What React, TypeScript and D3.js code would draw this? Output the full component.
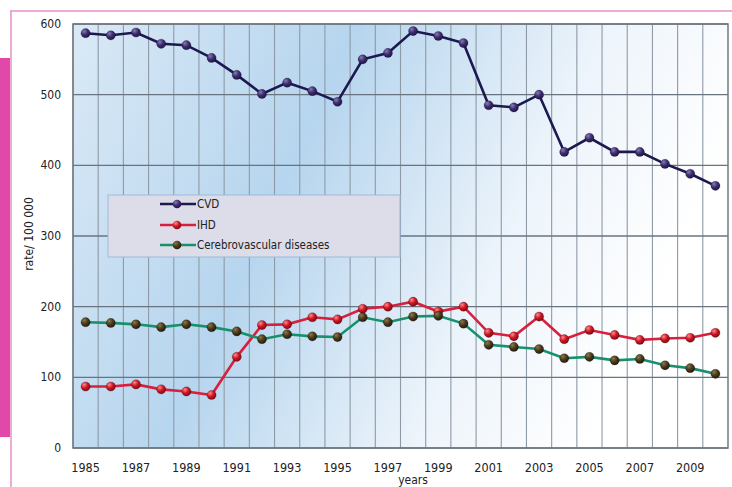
import * as d3 from 'd3';

const years = d3.range(1985, 2011);
const cvd = [587, 584, 588, 572, 570, 552, 528, 501, 517, 505, 490, 550, 559, 590, 583, 573, 485, 482, 500, 419, 439, 419, 419, 402, 388, 371];
const ihd = [87, 87, 90, 83, 80, 75, 129, 174, 175, 185, 182, 197, 200, 207, 193, 200, 163, 158, 186, 154, 167, 160, 153, 155, 156, 163];
const cerebro = [178, 177, 175, 171, 175, 171, 165, 154, 161, 158, 157, 185, 178, 186, 187, 176, 146, 143, 140, 127, 129, 124, 126, 117, 113, 105];
const yTicks = [0, 100, 200, 300, 400, 500, 600];
const xTickYears = years.filter((y) => y % 2 === 1);

const series = [
  { name: 'CVD', values: cvd, line: '#1c1850', dot: 'dotCvd' },
  { name: 'IHD', values: ihd, line: '#d8203e', dot: 'dotIhd' },
  { name: 'Cerebrovascular diseases', values: cerebro, line: '#17906e', dot: 'dotCer' },
];

const W = 732;
const H = 487;
const left = 73;
const right = 728;
const top = 24;
const bottom = 448;
const font = '"DejaVu Sans Condensed", "DejaVu Sans", sans-serif';

export default function App() {
  const x = d3.scaleBand<number>().domain(years).range([left, right]).padding(0);
  const y = d3.scaleLinear().domain([0, 600]).range([bottom, top]);
  const cx = (yr: number) => (x(yr) ?? 0) + x.bandwidth() / 2;

  const line = d3
    .line<number>()
    .x((_, i) => cx(years[i]))
    .y((d) => y(d));

  const legendX = 108;
  const legendY = 195;
  const legendRows = [204, 225, 245];

  return (
    <svg width={W} height={H} style={{ position: 'absolute', left: 0, top: 0 }} fontFamily={font}>
      <defs>
        <linearGradient id="bg" x1="0" y1="0" x2="1" y2="0.3">
          <stop offset="0" stopColor="#dae9f6" />
          <stop offset="0.4" stopColor="#b6d5ee" />
          <stop offset="0.75" stopColor="#edf4fb" />
          <stop offset="1" stopColor="#ffffff" />
        </linearGradient>
        <radialGradient id="dotCvd" cx="0.35" cy="0.3" r="0.75">
          <stop offset="0" stopColor="#8a7ab8" />
          <stop offset="0.5" stopColor="#3c2d6e" />
          <stop offset="1" stopColor="#1e1545" />
        </radialGradient>
        <radialGradient id="dotIhd" cx="0.35" cy="0.3" r="0.75">
          <stop offset="0" stopColor="#ff8a8a" />
          <stop offset="0.5" stopColor="#d01424" />
          <stop offset="1" stopColor="#7a0a12" />
        </radialGradient>
        <radialGradient id="dotCer" cx="0.35" cy="0.3" r="0.75">
          <stop offset="0" stopColor="#8a7a4a" />
          <stop offset="0.5" stopColor="#4a3a1e" />
          <stop offset="1" stopColor="#22180a" />
        </radialGradient>
      </defs>

      <rect x={0} y={0} width={W} height={H} fill="#ffffff" />
      {/* pink frame */}
      <line x1={10} y1={11} x2={W} y2={11} stroke="#e890c4" strokeWidth={1.5} />
      <line x1={11} y1={11} x2={11} y2={H} stroke="#e890c4" strokeWidth={1.5} />
      <rect x={0} y={58} width={10} height={379} fill="#e048aa" />

      {/* plot area */}
      <rect x={left} y={top} width={right - left} height={bottom - top} fill="url(#bg)" />
      {years.map((yr) => (
        <line
          key={yr}
          x1={x(yr)}
          x2={x(yr)}
          y1={top}
          y2={bottom}
          stroke="#8e9aa6"
          strokeWidth={1.1}
        />
      ))}
      {yTicks.map((t) => (
        <line key={t} x1={left} x2={right} y1={y(t)} y2={y(t)} stroke="#6a7480" strokeWidth={1.3} />
      ))}
      <rect x={left} y={top} width={right - left} height={bottom - top} fill="none" stroke="#707880" strokeWidth={1.5} />

      {/* y axis */}
      {yTicks.map((t) => (
        <text key={t} x={61} y={y(t) + 4} textAnchor="end" fontSize={12} fill="#222">
          {t}
        </text>
      ))}
      <text
        transform={`translate(33, 234) rotate(-90)`}
        textAnchor="middle"
        fontSize={12}
        fill="#222"
      >
        rate/ 100 000
      </text>

      {/* x axis */}
      {xTickYears.map((yr) => (
        <text key={yr} x={cx(yr)} y={472} textAnchor="middle" fontSize={12.5} fill="#222">
          {yr}
        </text>
      ))}
      <text x={413} y={484} textAnchor="middle" fontSize={12} fill="#222">
        years
      </text>

      {/* series */}
      {series.map((s) => (
        <g key={s.name}>
          <path d={line(s.values) ?? ''} fill="none" stroke={s.line} strokeWidth={2.6} />
          {s.values.map((v, i) => (
            <circle
              key={i}
              cx={cx(years[i])}
              cy={y(v)}
              r={4.6}
              fill={`url(#${s.dot})`}
              stroke="rgba(0,0,0,0.35)"
              strokeWidth={0.6}
            />
          ))}
        </g>
      ))}

      {/* legend */}
      <rect x={legendX} y={legendY} width={292} height={62} fill="#dcdde9" stroke="#9fb9d9" strokeWidth={1} />
      {series.map((s, i) => (
        <g key={s.name}>
          <line x1={160} x2={196} y1={legendRows[i]} y2={legendRows[i]} stroke={s.line} strokeWidth={2.6} />
          <circle cx={177} cy={legendRows[i]} r={4.3} fill={`url(#${s.dot})`} />
          <text x={197} y={legendRows[i] + 4} fontSize={11.5} fill="#222">
            {s.name}
          </text>
        </g>
      ))}
    </svg>
  );
}
